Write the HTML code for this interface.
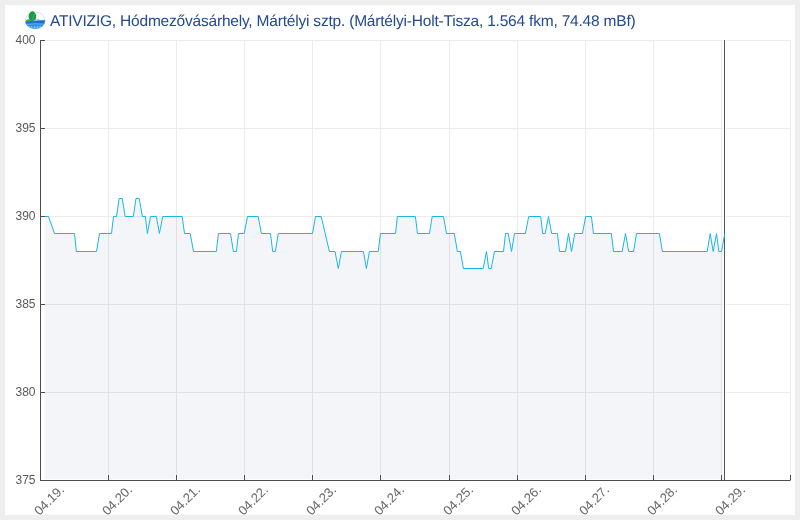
<!DOCTYPE html>
<html><head><meta charset="utf-8">
<style>
html,body{margin:0;padding:0;}
body{width:800px;height:520px;background:#eeeeee;overflow:hidden;position:relative;font-family:"Liberation Sans",Arial,sans-serif;}
#panel{position:absolute;left:5px;top:5px;width:790px;height:510px;background:#fff;}
#title{position:absolute;left:50px;top:11.5px;font-size:15.5px;line-height:20px;letter-spacing:-0.2px;text-rendering:geometricPrecision;color:#234a94;white-space:nowrap;will-change:transform;}
svg{position:absolute;left:0;top:0;will-change:transform;}
</style></head><body>
<div id="panel"></div>
<svg width="800" height="520" viewBox="0 0 800 520">
<polygon points="44.9,479 44.9,216.5 48.5,216.5 54.5,233.5 74.5,233.5 76.4,251.5 96.5,251.5 99.5,233.5 111.5,233.5 113.5,216.5 116.5,216.5 119.2,198.5 122.2,198.5 125.2,216.5 133.3,216.5 136.0,198.5 139.2,198.5 142.4,216.5 145.4,216.5 147.4,233.5 150.5,216.5 156.4,216.5 159.4,233.5 162.7,216.5 182.2,216.5 184.5,233.5 190.2,233.5 193.5,251.5 216.3,251.5 218.5,233.5 230.5,233.5 233.4,251.5 236.4,251.5 238.5,233.5 244.2,233.5 247.5,216.5 258.2,216.5 261.4,233.5 270.5,233.5 272.7,251.5 275.4,251.5 278.3,233.5 312.5,233.5 315.5,216.5 321.2,216.5 329.4,251.5 335.0,251.5 338.3,268.5 341.4,251.5 363.4,251.5 366.4,268.5 369.4,251.5 378.2,251.5 380.5,233.5 395.5,233.5 397.4,216.5 415.4,216.5 417.5,233.5 429.5,233.5 432.2,216.5 443.5,216.5 446.5,233.5 454.3,233.5 457.4,251.5 460.4,251.5 463.4,268.5 483.2,268.5 486.5,251.5 488.7,268.5 491.2,268.5 494.5,251.5 503.5,251.5 505.5,233.5 508.2,233.5 511.5,251.5 514.5,233.5 525.4,233.5 528.7,216.5 540.7,216.5 542.7,233.5 545.2,233.5 548.5,216.5 551.7,233.5 557.5,233.5 559.5,251.5 565.5,251.5 568.5,233.5 571.5,251.5 574.8,233.5 582.4,233.5 585.7,216.5 591.4,216.5 593.5,233.5 611.4,233.5 613.5,251.5 622.2,251.5 625.5,233.5 628.7,251.5 633.5,251.5 636.5,233.5 659.4,233.5 662.4,251.5 707.2,251.5 710.2,233.5 713.2,251.5 716.5,233.5 718.9,251.5 721.5,251.5 724.8,233.5 724.8,479" fill="#f4f5f9"/>
<g fill="none" stroke="#000" opacity="0.075" stroke-width="1"><path d="M40 40.5H791"/><path d="M40 128.5H791"/><path d="M40 216.5H791"/><path d="M40 304.5H791"/><path d="M40 392.5H791"/><path d="M40 480.5H791"/><path d="M108.5 40V480"/><path d="M176.5 40V480"/><path d="M244.5 40V480"/><path d="M312.5 40V480"/><path d="M380.5 40V480"/><path d="M449.5 40V480"/><path d="M517.5 40V480"/><path d="M585.5 40V480"/><path d="M653.5 40V480"/><path d="M721.5 40V480"/><path d="M790.5 40V480"/></g>
<path d="M724.5 40V480" stroke="#fff" stroke-opacity="0.75" stroke-width="4"/>
<path d="M724.5 40V480" stroke="#555" stroke-width="1"/>
<polyline points="44.9,216.5 48.5,216.5 54.5,233.5 74.5,233.5 76.4,251.5 96.5,251.5 99.5,233.5 111.5,233.5 113.5,216.5 116.5,216.5 119.2,198.5 122.2,198.5 125.2,216.5 133.3,216.5 136.0,198.5 139.2,198.5 142.4,216.5 145.4,216.5 147.4,233.5 150.5,216.5 156.4,216.5 159.4,233.5 162.7,216.5 182.2,216.5 184.5,233.5 190.2,233.5 193.5,251.5 216.3,251.5 218.5,233.5 230.5,233.5 233.4,251.5 236.4,251.5 238.5,233.5 244.2,233.5 247.5,216.5 258.2,216.5 261.4,233.5 270.5,233.5 272.7,251.5 275.4,251.5 278.3,233.5 312.5,233.5 315.5,216.5 321.2,216.5 329.4,251.5 335.0,251.5 338.3,268.5 341.4,251.5 363.4,251.5 366.4,268.5 369.4,251.5 378.2,251.5 380.5,233.5 395.5,233.5 397.4,216.5 415.4,216.5 417.5,233.5 429.5,233.5 432.2,216.5 443.5,216.5 446.5,233.5 454.3,233.5 457.4,251.5 460.4,251.5 463.4,268.5 483.2,268.5 486.5,251.5 488.7,268.5 491.2,268.5 494.5,251.5 503.5,251.5 505.5,233.5 508.2,233.5 511.5,251.5 514.5,233.5 525.4,233.5 528.7,216.5 540.7,216.5 542.7,233.5 545.2,233.5 548.5,216.5 551.7,233.5 557.5,233.5 559.5,251.5 565.5,251.5 568.5,233.5 571.5,251.5 574.8,233.5 582.4,233.5 585.7,216.5 591.4,216.5 593.5,233.5 611.4,233.5 613.5,251.5 622.2,251.5 625.5,233.5 628.7,251.5 633.5,251.5 636.5,233.5 659.4,233.5 662.4,251.5 707.2,251.5 710.2,233.5 713.2,251.5 716.5,233.5 718.9,251.5 721.5,251.5 724.8,233.5" fill="none" stroke="#19b6ea" stroke-width="1" stroke-linejoin="miter"/>
<g fill="none" stroke="#fff" stroke-opacity="0.7" stroke-width="3"><path d="M108.5 475V480"/><path d="M176.5 475V480"/><path d="M244.5 475V480"/><path d="M312.5 475V480"/><path d="M380.5 475V480"/><path d="M449.5 475V480"/><path d="M517.5 475V480"/><path d="M585.5 475V480"/><path d="M653.5 475V480"/><path d="M721.5 475V480"/><path d="M790.5 475V480"/></g>
<g fill="none" stroke="#4d4d4d" stroke-width="1">
<path d="M40.5 40V480.5"/><path d="M40 480.5H790.5"/><path d="M108.5 475V480"/><path d="M176.5 475V480"/><path d="M244.5 475V480"/><path d="M312.5 475V480"/><path d="M380.5 475V480"/><path d="M449.5 475V480"/><path d="M517.5 475V480"/><path d="M585.5 475V480"/><path d="M653.5 475V480"/><path d="M721.5 475V480"/><path d="M790.5 475V480"/><path d="M40 40.5H45"/><path d="M40 128.5H45"/><path d="M40 216.5H45"/><path d="M40 304.5H45"/><path d="M40 392.5H45"/><path d="M40 480.5H45"/>
</g>
<g font-family="Liberation Sans, Arial, sans-serif" font-size="12" fill="#5a5a5a" text-anchor="end"><text x="35.5" y="43.5">400</text><text x="35.5" y="131.5">395</text><text x="35.5" y="219.5">390</text><text x="35.5" y="307.5">385</text><text x="35.5" y="395.5">380</text><text x="35.5" y="483.5">375</text></g>
<g font-family="Liberation Sans, Arial, sans-serif" font-size="13" fill="#666" text-anchor="end"><text transform="translate(65.0,490.5) rotate(-45)">04.19.</text><text transform="translate(133.0,490.5) rotate(-45)">04.20.</text><text transform="translate(201.0,490.5) rotate(-45)">04.21.</text><text transform="translate(269.0,490.5) rotate(-45)">04.22.</text><text transform="translate(337.0,490.5) rotate(-45)">04.23.</text><text transform="translate(405.0,490.5) rotate(-45)">04.24.</text><text transform="translate(474.0,490.5) rotate(-45)">04.25.</text><text transform="translate(542.0,490.5) rotate(-45)">04.26.</text><text transform="translate(610.0,490.5) rotate(-45)">04.27.</text><text transform="translate(678.0,490.5) rotate(-45)">04.28.</text><text transform="translate(746.0,490.5) rotate(-45)">04.29.</text></g>
<defs><clipPath id="ic"><ellipse cx="35.1" cy="20.5" rx="9.9" ry="8.5"/></clipPath>
<linearGradient id="wg" x1="0" y1="0" x2="0" y2="1"><stop offset="0" stop-color="#1660c8"/><stop offset="0.45" stop-color="#2a86dc"/><stop offset="1" stop-color="#5ab4ee"/></linearGradient></defs>
<ellipse cx="35.1" cy="20.5" rx="9.9" ry="8.5" fill="#fff" stroke="#b5dcf5" stroke-width="0.7"/>
<g clip-path="url(#ic)">
<path d="M24 21.5 Q27 20.6 30 21 L33 20.2 L35 18.8 L36.5 19.6 L38 19 L41 20.2 L46 19.5 L46 30 L24 30 Z" fill="#7cc6f2"/>
<path d="M24 22 Q29 20.8 34 21.2 Q39 20.2 46 20.6 L46 30 L24 30 Z" fill="url(#wg)"/>
<path d="M26 24.5 Q35 23.3 44 24.2" stroke="#bfe3fb" stroke-width="0.5" fill="none"/>
<path d="M28.5 26.6h1.2M31 26.9h1.2M34 27.1h1.4M37 26.9h1.2M39.6 26.6h1.1" stroke="#e8f5ff" stroke-width="0.8"/>
</g>
<path d="M25.2 21.6 Q25.6 19.4 28.3 19.2 Q30.5 19.4 31 20.8 Q28.5 22 25.2 21.6 Z" fill="#3aa63c"/>
<path d="M28.6 17 Q28.2 13 32.4 11.1 Q36.6 13 36.2 17 Q35.7 20.8 32.3 21.1 Q29 20.7 28.6 17 Z" fill="#1b9a40"/>
<path d="M32.6 19.8 Q33.2 16.5 34.2 14.2" stroke="#5cc070" stroke-width="0.6" fill="none"/>
</svg>
<div id="title">ATIVIZIG, Hódmezővásárhely, Mártélyi sztp. (Mártélyi-Holt-Tisza, 1.564 fkm, 74.48 mBf)</div>
</body></html>
